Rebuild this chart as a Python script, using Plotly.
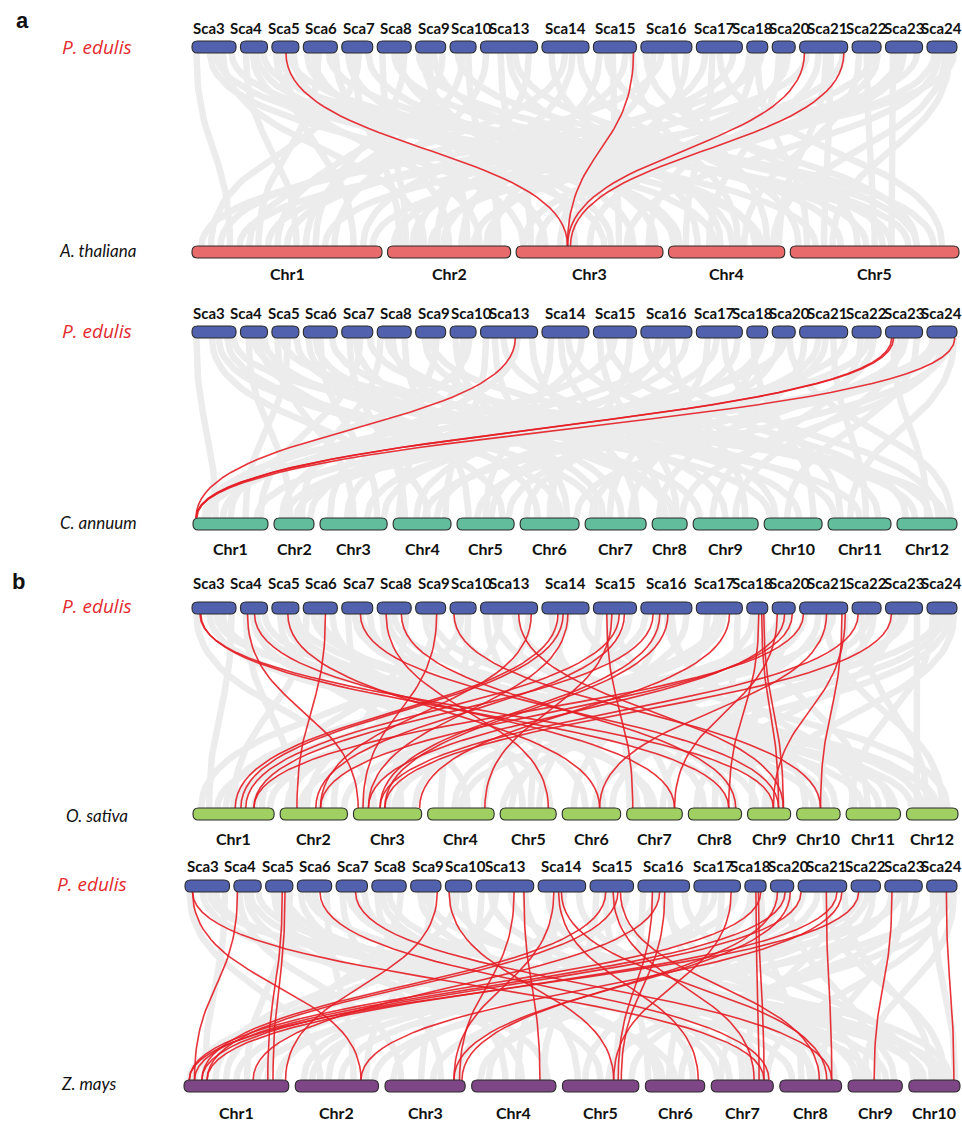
import plotly.graph_objects as go
import numpy as np

W, H = 962, 1125

# ---------------- data ----------------
PE_NAMES = ["Sca3", "Sca4", "Sca5", "Sca6", "Sca7", "Sca8", "Sca9", "Sca10", "Sca13", "Sca14",
            "Sca15", "Sca16", "Sca17", "Sca18", "Sca20", "Sca21", "Sca22", "Sca23", "Sca24"]
PE_LEN = [44, 27, 27, 34, 31, 34, 30, 26, 57, 47, 43, 51, 46, 21, 23, 48, 29, 37, 30]

AT_NAMES = ["Chr1", "Chr2", "Chr3", "Chr4", "Chr5"]
AT_LEN = [30.4, 19.7, 23.5, 18.6, 27.0]

CA_NAMES = ["Chr%d" % i for i in range(1, 13)]
CA_LEN = [285, 152, 255, 220, 217, 224, 232, 133, 247, 220, 239, 228]

OS_NAMES = ["Chr%d" % i for i in range(1, 13)]
OS_LEN = [43.3, 35.9, 36.4, 35.5, 29.9, 31.2, 29.7, 28.4, 23.0, 23.2, 29.0, 27.5]

ZM_NAMES = ["Chr%d" % i for i in range(1, 11)]
ZM_LEN = [307, 244, 235, 247, 224, 174, 182, 181, 159, 150]

# highlighted links: (scaffold, % along scaffold, chromosome, % along chromosome)
AT_RED = [("Sca5", 52, "Chr3", 35), ("Sca15", 93, "Chr3", 35),
          ("Sca21", 10, "Chr3", 35), ("Sca21", 92, "Chr3", 37)]

CA_RED = [("Sca13", 61, "Chr1", 4), ("Sca23", 17, "Chr1", 4),
          ("Sca23", 22, "Chr1", 5), ("Sca24", 93, "Chr1", 4)]

OS_RED = [("Sca3", 18, "Chr9", 60), ("Sca3", 20, "Chr8", 76), ("Sca4", 26, "Chr3", 7),
          ("Sca4", 52, "Chr7", 86), ("Sca5", 59, "Chr6", 64), ("Sca6", 65, "Chr2", 25),
          ("Sca7", 60, "Chr9", 72), ("Sca8", 26, "Chr5", 86), ("Sca8", 71, "Chr8", 89),
          ("Sca9", 70, "Chr3", 14), ("Sca10", 15, "Chr10", 55), ("Sca13", 67, "Chr9", 83),
          ("Sca13", 89, "Chr2", 60), ("Sca14", 34, "Chr1", 52), ("Sca14", 45, "Chr1", 59),
          ("Sca14", 55, "Chr3", 22), ("Sca15", 31, "Chr7", 11), ("Sca15", 43, "Chr4", 86),
          ("Sca15", 60, "Chr1", 65), ("Sca15", 72, "Chr2", 53), ("Sca16", 24, "Chr1", 75),
          ("Sca16", 37, "Chr3", 39), ("Sca16", 53, "Chr3", 46), ("Sca17", 72, "Chr3", 97),
          ("Sca18", 57, "Chr8", 76), ("Sca18", 71, "Chr9", 72), ("Sca18", 81, "Chr9", 83),
          ("Sca20", 22, "Chr7", 86), ("Sca20", 54, "Chr3", 22), ("Sca20", 87, "Chr2", 60),
          ("Sca21", 8, "Chr1", 75), ("Sca21", 56, "Chr6", 64), ("Sca21", 88, "Chr10", 55),
          ("Sca21", 95, "Chr9", 60), ("Sca22", 21, "Chr3", 39), ("Sca23", 16, "Chr3", 46)]

ZM_RED = [("Sca3", 17, "Chr7", 85), ("Sca3", 17, "Chr2", 79), ("Sca4", 13, "Chr1", 10),
          ("Sca5", 61, "Chr1", 80), ("Sca5", 71, "Chr1", 85), ("Sca6", 66, "Chr7", 93),
          ("Sca7", 62, "Chr8", 84), ("Sca9", 88, "Chr1", 97), ("Sca10", 14, "Chr5", 67),
          ("Sca13", 66, "Chr3", 93), ("Sca13", 83, "Chr4", 81), ("Sca14", 33, "Chr3", 86),
          ("Sca14", 43, "Chr6", 89), ("Sca14", 49, "Chr8", 76), ("Sca15", 36, "Chr1", 17),
          ("Sca15", 53, "Chr7", 69), ("Sca15", 64, "Chr1", 22), ("Sca15", 70, "Chr8", 64),
          ("Sca16", 28, "Chr5", 73), ("Sca16", 42, "Chr1", 66), ("Sca16", 52, "Chr5", 77),
          ("Sca17", 80, "Chr5", 67), ("Sca18", 52, "Chr7", 77), ("Sca18", 64, "Chr7", 85),
          ("Sca18", 75, "Chr1", 5), ("Sca20", 30, "Chr3", 96), ("Sca20", 63, "Chr1", 10),
          ("Sca20", 85, "Chr3", 86), ("Sca21", 6, "Chr1", 17), ("Sca21", 58, "Chr8", 84),
          ("Sca21", 80, "Chr1", 22), ("Sca21", 90, "Chr2", 79), ("Sca22", 26, "Chr1", 5),
          ("Sca23", 19, "Chr9", 48), ("Sca24", 65, "Chr10", 88)]

# background collinear blocks: (scaffold index, %, chromosome index, %)
AT_GRAY = [(0,10,0,20),(0,40,2,60),(0,70,1,30),(0,90,4,15),(1,20,0,55),(1,60,3,40),(1,85,4,70),
           (2,15,1,75),(2,50,0,85),(2,80,2,20),(3,10,3,10),(3,45,0,35),(3,75,4,45),(3,95,1,50),
           (4,20,2,80),(4,55,0,10),(4,85,3,75),(5,15,1,15),(5,50,4,30),(5,80,0,65),(6,25,2,40),
           (6,60,3,55),(6,90,0,45),(7,30,4,85),(7,70,1,90),(8,10,0,75),(8,35,2,10),(8,60,4,55),
           (8,85,1,40),(9,20,3,25),(9,50,0,30),(9,80,4,5),(10,15,1,60),(10,45,2,70),(10,75,0,90),
           (11,10,4,40),(11,40,0,15),(11,65,3,85),(11,90,2,30),(12,20,1,20),(12,50,4,90),(12,80,0,50),
           (13,30,2,90),(13,70,0,5),(14,30,3,35),(14,70,1,80),(15,15,0,40),(15,40,2,50),(15,65,4,20),
           (15,90,1,5),(16,25,3,65),(16,70,0,70),(17,20,4,60),(17,50,2,15),(17,85,0,25),(18,25,1,35),
           (18,60,3,90),(18,90,0,95),(2,35,3,5),(6,10,4,75),(10,90,3,60),(13,50,4,10),(16,90,2,5),
           (0,55,3,80),(1,45,2,5),(2,65,4,60),(3,30,2,65),(4,40,1,10),(5,65,2,95),(6,45,1,65),
           (7,50,0,60),(8,50,3,45),(9,65,1,25),(10,30,4,75),(11,25,1,85),(12,35,3,15),(13,15,1,45),
           (14,50,2,35),(15,55,3,95),(16,50,4,50),(17,35,1,70),(18,40,2,75),(18,75,4,25)]

CA_GRAY = [(0,10,0,30),(0,45,3,60),(0,80,6,20),(0,95,10,50),(1,30,1,40),(1,70,4,80),(1,90,8,10),
           (2,20,2,50),(2,60,0,70),(2,90,7,40),(3,15,5,30),(3,50,2,85),(3,85,9,60),(4,25,3,20),
           (4,60,0,90),(4,90,11,30),(5,10,1,70),(5,45,6,60),(5,80,4,20),(6,30,8,50),(6,70,2,15),
           (7,20,5,80),(7,75,0,50),(8,10,3,90),(8,40,9,20),(8,65,1,20),(8,90,6,85),(9,20,4,50),
           (9,55,10,80),(9,85,2,40),(10,15,7,70),(10,50,0,15),(10,85,5,50),(11,10,11,70),(11,35,3,40),
           (11,60,8,80),(11,90,1,90),(12,25,6,40),(12,60,10,20),(12,90,4,60),(13,30,9,85),(13,75,2,70),
           (14,30,5,10),(14,75,11,90),(15,10,7,20),(15,40,3,75),(15,70,10,60),(15,95,0,85),(16,30,8,30),
           (16,75,6,10),(17,20,11,50),(17,55,4,35),(17,85,9,40),(18,20,1,55),(18,55,7,85),(18,90,10,35),
           (0,60,5,70),(1,50,9,10),(2,40,11,80),(3,35,7,60),(4,45,6,30),(5,30,10,10),(6,50,11,55),
           (7,50,3,10),(8,25,5,60),(9,40,7,30),(10,35,11,15),(11,50,0,40),(12,45,2,95),(13,50,6,75),
           (14,55,0,20),(15,55,4,90),(16,55,1,30),(17,40,8,65),(18,40,3,55),(18,75,5,95)]

OS_GRAY = [(0,10,2,30),(0,40,6,50),(0,70,9,40),(0,90,0,20),(1,20,1,20),(1,60,7,70),(1,90,10,30),
           (2,30,3,60),(2,70,8,20),(2,90,11,60),(3,10,0,50),(3,50,9,70),(3,85,5,40),(4,20,2,70),
           (4,60,10,60),(4,90,6,20),(5,15,4,40),(5,50,11,30),(5,85,1,80),(6,30,7,30),(6,70,0,85),
           (7,20,8,60),(7,70,3,20),(8,10,5,70),(8,35,1,40),(8,60,10,80),(8,85,2,50),(9,20,6,80),
           (9,55,0,40),(9,85,11,80),(10,15,3,85),(10,50,8,80),(10,85,1,10),(11,10,0,60),(11,35,4,70),
           (11,60,9,20),(11,90,2,90),(12,25,5,20),(12,60,1,60),(12,90,7,50),(13,30,3,40),(13,75,10,40),
           (14,30,0,30),(14,75,6,65),(15,10,2,15),(15,40,4,20),(15,70,1,30),(15,95,9,55),(16,30,11,40),
           (16,75,5,85),(17,20,7,15),(17,55,0,75),(17,85,11,20),(18,20,10,10),(18,55,3,50),(18,90,8,40),
           (0,55,11,10),(1,45,4,90),(2,50,6,40),(3,30,10,90),(4,40,8,55),(5,30,7,90),(6,50,11,50),
           (7,45,0,10),(8,25,9,90),(9,40,4,55),(10,35,6,5),(11,50,10,15),(12,45,0,95),(13,50,8,10),
           (14,55,1,95),(15,55,11,70),(16,55,2,60),(17,40,4,5),(18,40,0,50),(18,75,5,55)]

ZM_GRAY = [(0,10,1,30),(0,40,5,50),(0,70,8,40),(0,90,0,20),(1,20,2,20),(1,60,6,70),(1,90,9,30),
           (2,30,3,60),(2,70,7,20),(2,90,0,60),(3,10,4,50),(3,50,8,70),(3,85,1,70),(4,20,2,70),
           (4,60,9,60),(4,90,5,20),(5,15,3,40),(5,50,7,80),(5,85,0,80),(6,30,6,30),(6,70,1,85),
           (7,20,8,15),(7,70,4,20),(8,10,2,45),(8,35,0,40),(8,60,9,80),(8,85,5,80),(9,20,6,80),
           (9,55,1,40),(9,85,7,50),(10,15,3,85),(10,50,8,85),(10,85,0,10),(11,10,4,70),(11,35,1,10),
           (11,60,6,50),(11,90,9,10),(12,25,2,90),(12,60,5,40),(12,90,0,50),(13,30,3,20),(13,75,7,35),
           (14,30,4,30),(14,75,8,55),(15,10,1,55),(15,40,2,10),(15,70,6,15),(15,95,9,45),(16,30,0,70),
           (16,75,5,60),(17,20,3,10),(17,55,7,65),(17,85,4,90),(18,20,9,90),(18,55,6,90),(18,90,8,30),
           (0,55,9,70),(1,45,3,90),(2,50,5,30),(3,30,9,20),(4,40,7,55),(5,30,6,10),(6,50,9,50),
           (7,45,0,30),(8,25,7,90),(9,40,3,55),(10,35,5,5),(11,50,8,25),(12,45,0,90),(13,50,6,60),
           (14,55,1,20),(15,55,9,70),(16,55,2,60),(17,40,0,5),(18,40,1,95),(18,75,4,60)]

# ---------------- styles / layout ----------------
PE_COLOR = "#5161ad"
RED = "rgba(228,30,38,0.9)"
GRAY = "#ececec"
OUTLINE = "#2b2b2b"
LAB = "Lato, Roboto, Liberation Sans, sans-serif"
SANS = "Open Sans, Noto Sans, DejaVu Sans, sans-serif"

panels = [
    dict(top_x=(192, 957), top_y=(41, 53), top_lab=28,
         names=AT_NAMES, lens=AT_LEN, bot_x=(192, 959), bot_gap=5.5, bot_y=(246, 258), bot_lab=273,
         color="#e96a6a", species="A. thaliana", sp_x=97, sp_y=250, pe_x=97, pe_y=47,
         red=AT_RED, gray=AT_GRAY),
    dict(top_x=(192, 957), top_y=(326, 338), top_lab=313,
         names=CA_NAMES, lens=CA_LEN, bot_x=(193, 957), bot_gap=6, bot_y=(518, 530), bot_lab=548,
         color="#62bd9c", species="C. annuum", sp_x=98, sp_y=522, pe_x=97, pe_y=331,
         red=CA_RED, gray=CA_GRAY),
    dict(top_x=(192, 957), top_y=(602, 614), top_lab=583,
         names=OS_NAMES, lens=OS_LEN, bot_x=(193, 958), bot_gap=6, bot_y=(808, 820), bot_lab=838,
         color="#a0cf62", species="O. sativa", sp_x=97, sp_y=815, pe_x=97, pe_y=606,
         red=OS_RED, gray=OS_GRAY),
    dict(top_x=(185, 957), top_y=(880, 892), top_lab=866,
         names=ZM_NAMES, lens=ZM_LEN, bot_x=(184, 960), bot_gap=6.5, bot_y=(1080, 1092), bot_lab=1112,
         color="#7e4686", species="Z. mays", sp_x=88, sp_y=1083, pe_x=92, pe_y=884,
         red=ZM_RED, gray=ZM_GRAY),
]


def layout_row(lengths, x0, x1, gap):
    n = len(lengths)
    scale = (x1 - x0 - gap * (n - 1)) / sum(lengths)
    starts, x = [], x0
    for L in lengths:
        starts.append(x)
        x += L * scale + gap
    return starts, scale


def spread(centers, d, hi):
    c = list(centers)
    for _ in range(200):
        for k in range(1, len(c)):
            ov = d - (c[k] - c[k - 1])
            if ov > 0:
                c[k - 1] -= ov / 2
                c[k] += ov / 2
        c[-1] = min(c[-1], hi)
    return c


def rounded(x0, x1, y0, y1, r=5.5):
    r = min(r, (x1 - x0) / 2, (y1 - y0) / 2)
    return (f"M{x0+r},{y0} L{x1-r},{y0} Q{x1},{y0} {x1},{y0+r} L{x1},{y1-r} Q{x1},{y1} {x1-r},{y1} "
            f"L{x0+r},{y1} Q{x0},{y1} {x0},{y1-r} L{x0},{y0+r} Q{x0},{y0} {x0+r},{y0} Z")


t = np.linspace(0, 1, 40)


def bezier(xa, ya, xb, yb):
    ym = (ya + yb) / 2
    bx = (1-t)**3*xa + 3*(1-t)**2*t*xa + 3*(1-t)*t**2*xb + t**3*xb
    by = (1-t)**3*ya + 3*(1-t)**2*t*ym + 3*(1-t)*t**2*ym + t**3*yb
    return list(bx), list(by)


fig = go.Figure()
shapes, annos = [], []

for p in panels:
    ts, tscale = layout_row(PE_LEN, p["top_x"][0], p["top_x"][1], 4.4)
    bs, bscale = layout_row(p["lens"], p["bot_x"][0], p["bot_x"][1], p["bot_gap"])
    ty0, ty1 = p["top_y"]
    by0, by1 = p["bot_y"]

    def tpos(i, pct):
        return ts[i] + PE_LEN[i] * tscale * pct / 100.0

    def bpos(j, pct):
        return bs[j] + p["lens"][j] * bscale * pct / 100.0

    gx, gy = [], []
    for (i, pi, j, pj) in p["gray"]:
        bx, by = bezier(tpos(i, pi), ty1, bpos(j, pj), by0)
        gx += bx + [None]
        gy += by + [None]
    fig.add_trace(go.Scatter(x=gx, y=gy, mode="lines", line=dict(color=GRAY, width=6.5),
                             hoverinfo="skip", showlegend=False))

    rx, ry = [], []
    for (s, pi, c, pj) in p["red"]:
        i = PE_NAMES.index(s)
        j = p["names"].index(c)
        bx, by = bezier(tpos(i, pi), ty1, bpos(j, pj), by0)
        rx += bx + [None]
        ry += by + [None]
    fig.add_trace(go.Scatter(x=rx, y=ry, mode="lines", line=dict(color=RED, width=1.6),
                             hoverinfo="skip", showlegend=False))

    tcent = []
    for i, name in enumerate(PE_NAMES):
        x0 = ts[i]
        x1 = ts[i] + PE_LEN[i] * tscale
        tcent.append((x0 + x1) / 2)
        shapes.append(dict(type="path", xref="x", yref="y", path=rounded(x0, x1, ty0, ty1),
                           fillcolor=PE_COLOR, line=dict(color=OUTLINE, width=1.1), layer="above"))
    for name, cx in zip(PE_NAMES, spread(tcent, 37.5, 942)):
        annos.append(dict(x=cx, y=p["top_lab"], text=name, showarrow=False,
                          xanchor="center", yanchor="middle",
                          font=dict(family=LAB, size=15, color="#111", weight=700)))
    for j, name in enumerate(p["names"]):
        x0 = bs[j]
        x1 = bs[j] + p["lens"][j] * bscale
        shapes.append(dict(type="path", xref="x", yref="y", path=rounded(x0, x1, by0, by1),
                           fillcolor=p["color"], line=dict(color=OUTLINE, width=1.1), layer="above"))
        annos.append(dict(x=(x0 + x1) / 2, y=p["bot_lab"], text=name, showarrow=False,
                          xanchor="center", yanchor="middle",
                          font=dict(family=LAB, size=16, color="#111", weight=700)))

    annos.append(dict(x=p["pe_x"], y=p["pe_y"], text="P. edulis", showarrow=False,
                      xanchor="center", yanchor="middle",
                      font=dict(family=SANS, size=19, color="#e32b2f", style="italic")))
    annos.append(dict(x=p["sp_x"], y=p["sp_y"], text=p["species"], showarrow=False,
                      xanchor="center", yanchor="middle",
                      font=dict(family=LAB, size=17, color="#111", style="italic")))

annos.append(dict(x=22, y=20, text="a", showarrow=False, xanchor="center", yanchor="middle",
                  font=dict(family="Liberation Sans, Arial, sans-serif", size=22, color="#111", weight=700)))
annos.append(dict(x=18, y=581, text="b", showarrow=False, xanchor="center", yanchor="middle",
                  font=dict(family="Liberation Sans, Arial, sans-serif", size=22, color="#111", weight=700)))

fig.update_layout(
    width=W, height=H, autosize=False,
    margin=dict(l=0, r=0, t=0, b=0),
    paper_bgcolor="white", plot_bgcolor="white",
    xaxis=dict(range=[0, W], visible=False, fixedrange=True),
    yaxis=dict(range=[H, 0], visible=False, fixedrange=True),
    shapes=shapes, annotations=annos, showlegend=False,
)

fig.write_html("out.html", config={"displayModeBar": False},
               post_script="document.body.style.margin='0';")
